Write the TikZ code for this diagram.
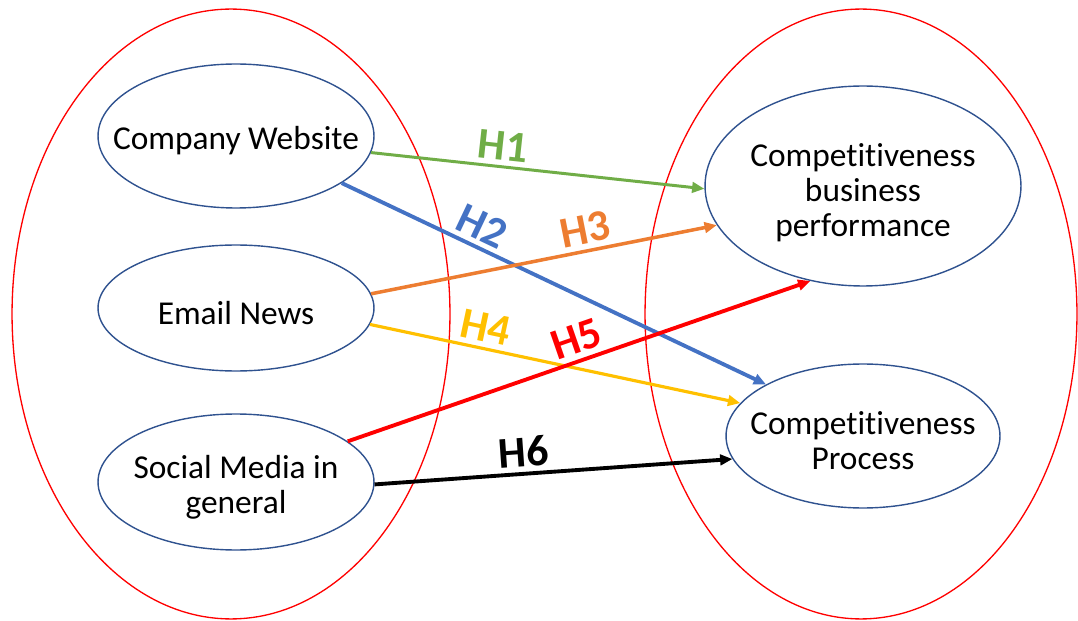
\documentclass[tikz,border=0pt]{standalone}
\usepackage{fontspec}
\setmainfont{Carlito}[Ligatures=NoCommon]
\usetikzlibrary{shapes.geometric,arrows.meta}

\definecolor{rimblue}{HTML}{2F528F}
\definecolor{hgreen}{HTML}{70AD47}
\definecolor{hblue}{HTML}{4472C4}
\definecolor{horange}{HTML}{ED7D31}
\definecolor{hyellow}{HTML}{FFC000}

\tikzset{
  group/.style={ellipse, draw=red, line width=0.75pt, inner sep=0pt},
  factor/.style={ellipse, draw=rimblue, line width=0.8pt, inner sep=0pt},
  txt/.style={align=center, font=\fontsize{19}{20}\selectfont},
  hyp/.style={line width=2pt, -{Triangle[length=7pt,width=6pt]}},
  hlab/.style={sloped, above, inner sep=3pt, font=\fontsize{25}{27}\selectfont\bfseries},
}

\begin{document}
\begin{tikzpicture}[x=0.02cm, y=-0.02cm]
      \useasboundingbox (0,0) rectangle (1078,621);
      % Define groups
      \node[group, minimum width=8.76cm, minimum height=12.2cm] (left) at (231,314) {};
      \node[group, minimum width=8.64cm, minimum height=12.2cm] (right) at (861,314) {};
      % Define nodes
      \node[factor, minimum width=5.52cm, minimum height=2.88cm,
        label={[txt, yshift=-0.1cm]center:Company Website}] (web) at (236,136) {};
      \node[factor, minimum width=5.52cm, minimum height=2.52cm,
        label={[txt, yshift=-0.1cm]center:Email News}] (mail) at (236,308) {};
      \node[factor, minimum width=5.52cm, minimum height=2.72cm,
        label={[txt, yshift=-0.1cm]center:Social Media in\\general}] (social) at (236,482) {};
      \node[factor, minimum width=6.32cm, minimum height=4.0cm,
        label={[txt, yshift=-0.14cm]center:Competitiveness\\business\\performance}] (perf) at (863,186) {};
      \node[factor, minimum width=5.48cm, minimum height=2.88cm,
        label={[txt, yshift=-0.1cm]center:Competitiveness\\Process}] (proc) at (863,436) {};
      % Connect nodes
      \draw[hyp, hgreen, line width=1.7pt] (web.-7.8) -- node[hlab, pos=0.39] {H1} (perf.181.5);
      \draw[hyp, hblue, line width=2.2pt] (web.-24.4) -- node[hlab, pos=0.31] {H2} (proc.152.5);
      \draw[hyp, horange] (mail.6.2) -- node[hlab, pos=0.63] {H3} (perf.195.6);
      \draw[hyp, hyellow, line width=1.8pt] (mail.-7) -- node[hlab, pos=0.3] {H4} (proc.165.1);
      \draw[hyp, red, line width=2.2pt] (social.20.4) -- node[hlab, pos=0.51] {H5} (perf.241);
      \draw[hyp, black, line width=2.2pt] (social.-1.6) -- node[hlab, pos=0.42] {H6} (proc.190);
\end{tikzpicture}
\end{document}
